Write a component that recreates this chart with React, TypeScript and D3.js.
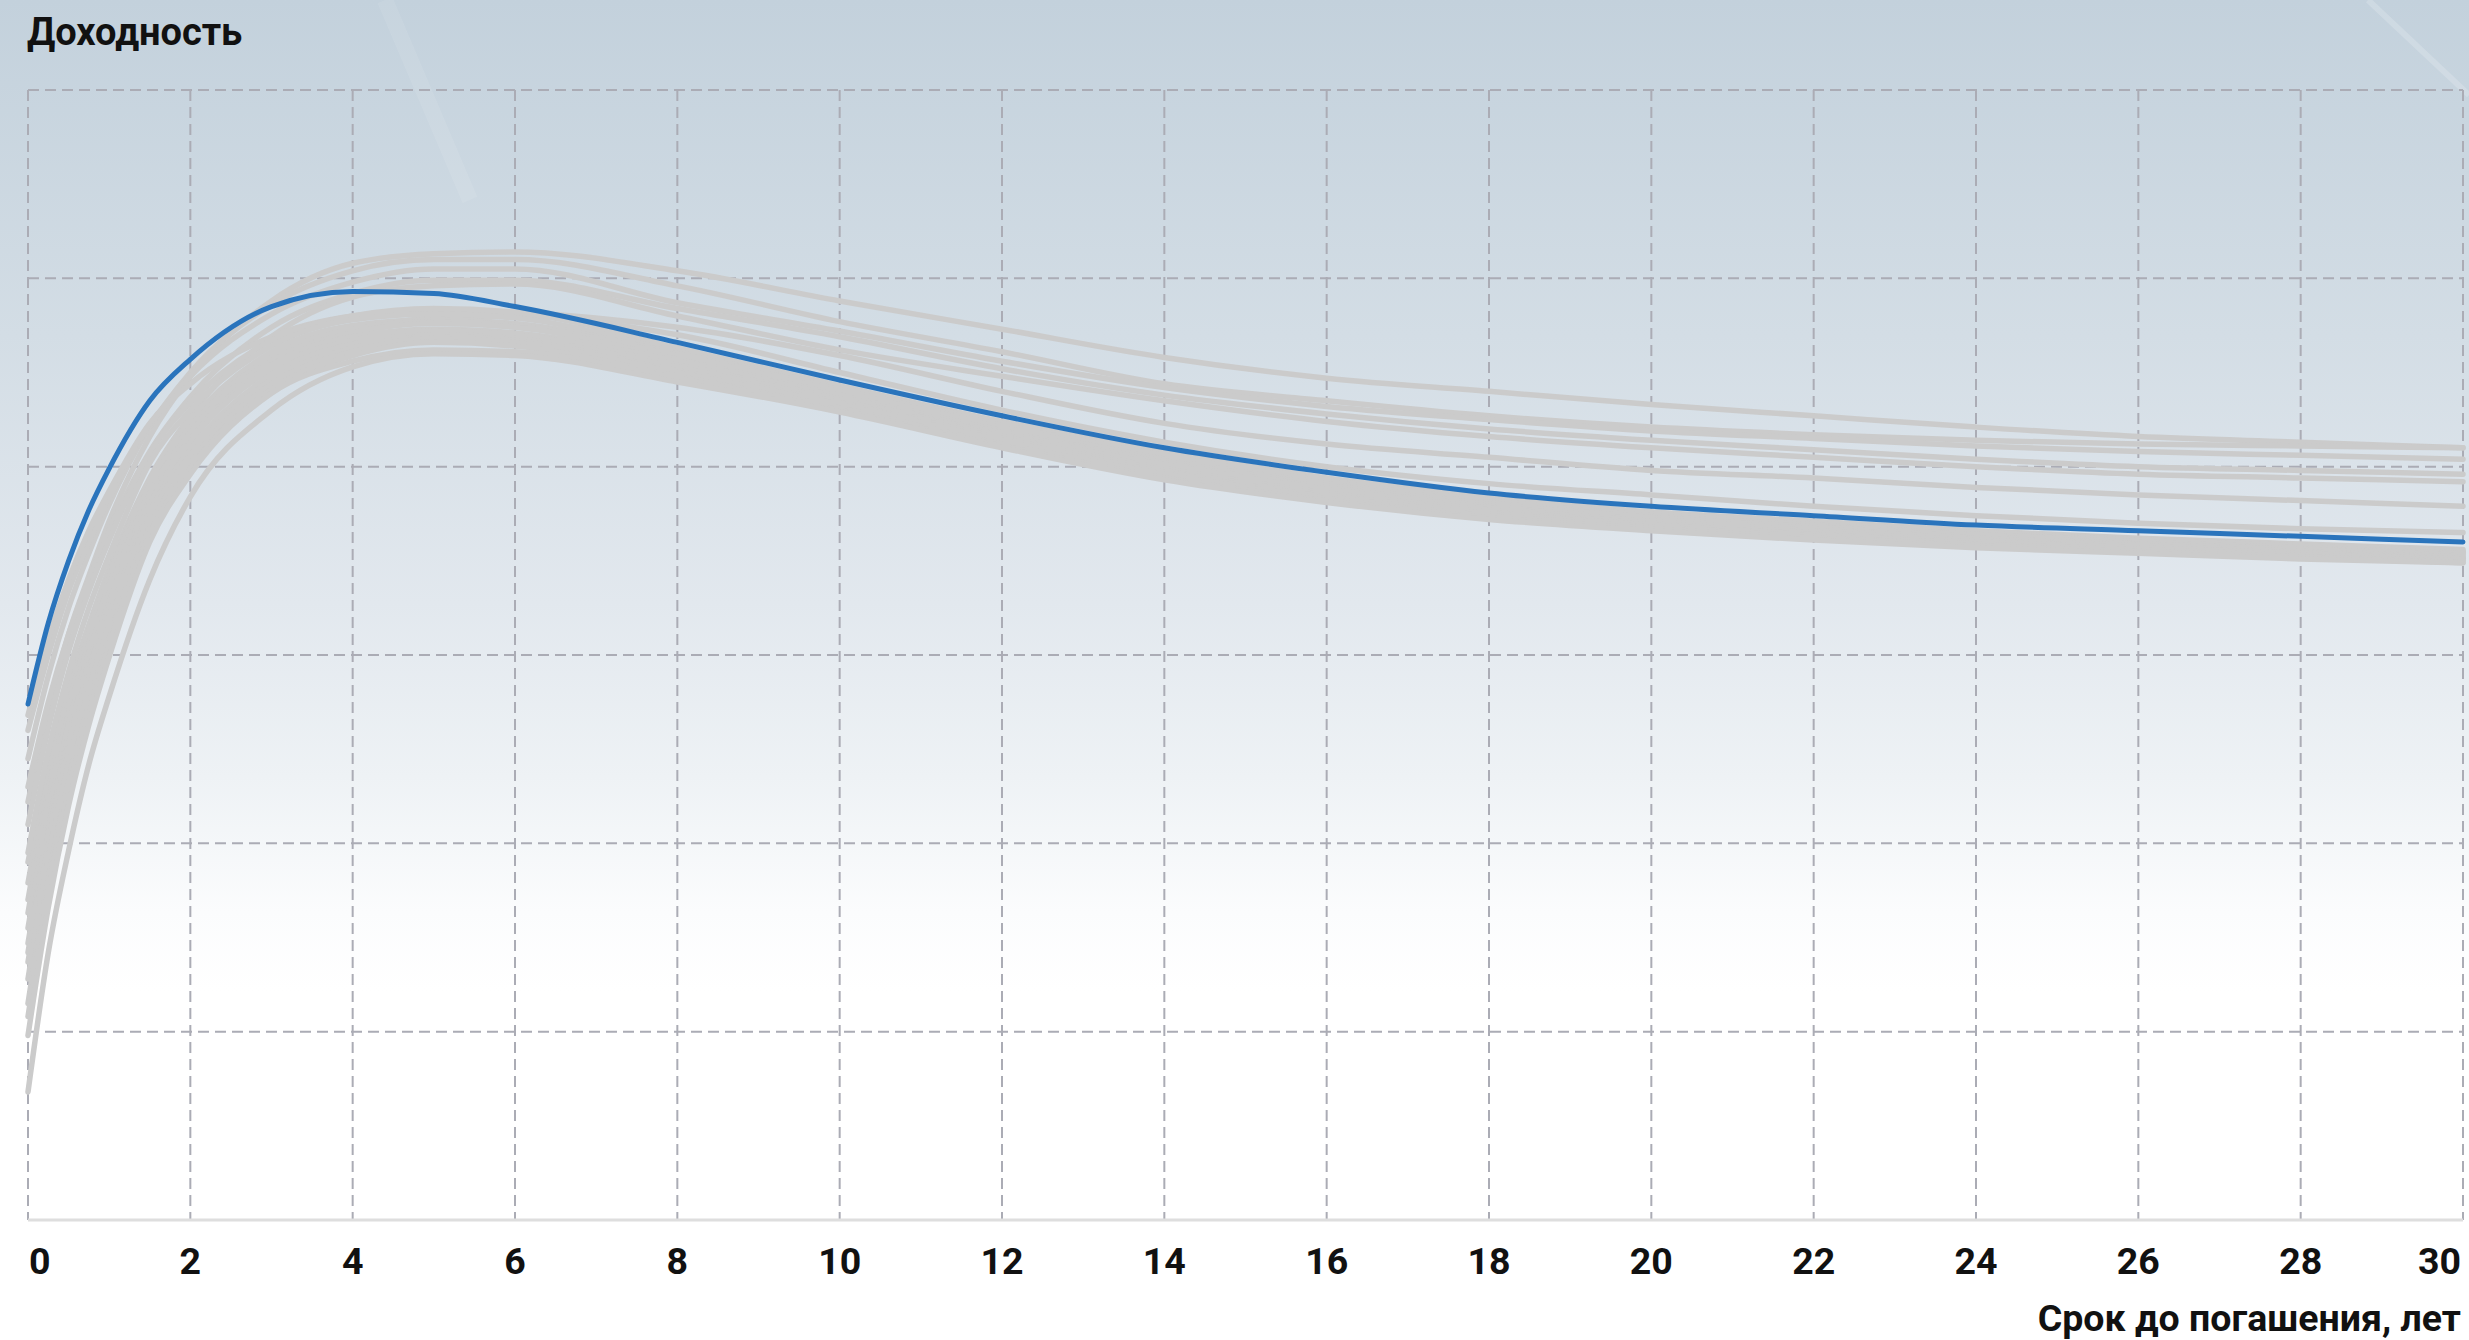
import React from "react";
import * as d3 from "d3";

// ---- data ----
const maturities = [0, 0.25, 0.5, 0.75, 1, 1.5, 2, 3, 4, 5, 6, 8, 10, 12, 14, 16, 18, 20, 22, 24, 26, 28, 30];

const currentCurve = [2.74, 3.17, 3.5, 3.77, 3.99, 4.35, 4.57, 4.85, 4.93, 4.92, 4.85, 4.66, 4.46, 4.27, 4.1, 3.97, 3.86, 3.79, 3.74, 3.69, 3.66, 3.63, 3.6];

const hist01 = [2.22, 2.71, 3.11, 3.42, 3.71, 4.16, 4.48, 4.88, 5.08, 5.13, 5.14, 5.04, 4.88, 4.73, 4.58, 4.47, 4.4, 4.33, 4.27, 4.21, 4.16, 4.13, 4.1];
const hist02 = [2.45, 2.89, 3.25, 3.54, 3.8, 4.21, 4.5, 4.86, 5.04, 5.1, 5.1, 4.96, 4.77, 4.61, 4.44, 4.35, 4.27, 4.21, 4.17, 4.14, 4.12, 4.11, 4.1];
const hist03 = [2.6, 3.0, 3.34, 3.6, 3.84, 4.22, 4.48, 4.81, 4.98, 5.05, 5.05, 4.87, 4.72, 4.56, 4.42, 4.32, 4.25, 4.19, 4.15, 4.11, 4.08, 4.06, 4.04];
const hist04 = [2.3, 2.75, 3.11, 3.4, 3.66, 4.08, 4.37, 4.74, 4.92, 4.99, 4.99, 4.84, 4.69, 4.52, 4.38, 4.28, 4.2, 4.14, 4.09, 4.04, 4.0, 3.98, 3.96];
const hist05 = [1.9, 2.41, 2.83, 3.16, 3.46, 3.94, 4.27, 4.69, 4.9, 4.96, 4.97, 4.8, 4.62, 4.48, 4.35, 4.24, 4.16, 4.1, 4.05, 4.0, 3.96, 3.94, 3.92];
const hist06 = [2.68, 3.08, 3.4, 3.66, 3.87, 4.23, 4.44, 4.69, 4.8, 4.83, 4.82, 4.74, 4.59, 4.4, 4.23, 4.12, 4.05, 3.98, 3.94, 3.89, 3.85, 3.82, 3.79];
const hist07 = [1.79, 2.35, 2.79, 3.14, 3.43, 3.93, 4.22, 4.57, 4.72, 4.79, 4.8, 4.7, 4.5, 4.3, 4.13, 4.0, 3.91, 3.85, 3.79, 3.74, 3.7, 3.67, 3.65];
const hist08 = [2.1, 2.61, 3.02, 3.34, 3.61, 4.07, 4.34, 4.67, 4.8, 4.84, 4.82, 4.63, 4.43, 4.24, 4.08, 3.94, 3.84, 3.76, 3.71, 3.66, 3.62, 3.59, 3.56];
const hist09 = [1.95, 2.49, 2.91, 3.25, 3.53, 4.02, 4.3, 4.64, 4.78, 4.81, 4.79, 4.61, 4.42, 4.23, 4.07, 3.93, 3.83, 3.75, 3.7, 3.65, 3.61, 3.58, 3.55];
const hist10 = [1.7, 2.28, 2.74, 3.11, 3.41, 3.93, 4.24, 4.61, 4.75, 4.78, 4.76, 4.6, 4.41, 4.22, 4.06, 3.92, 3.82, 3.74, 3.69, 3.64, 3.61, 3.58, 3.55];
const hist11 = [1.63, 2.22, 2.69, 3.06, 3.37, 3.9, 4.21, 4.58, 4.73, 4.77, 4.75, 4.59, 4.4, 4.21, 4.04, 3.91, 3.81, 3.73, 3.68, 3.64, 3.6, 3.57, 3.54];
const hist12 = [1.55, 2.15, 2.63, 3.01, 3.33, 3.86, 4.18, 4.56, 4.71, 4.76, 4.74, 4.57, 4.38, 4.19, 4.03, 3.9, 3.8, 3.73, 3.68, 3.63, 3.59, 3.56, 3.54];
const hist13 = [1.47, 2.08, 2.57, 2.96, 3.28, 3.83, 4.15, 4.54, 4.69, 4.73, 4.71, 4.56, 4.37, 4.18, 4.02, 3.89, 3.79, 3.72, 3.67, 3.62, 3.59, 3.56, 3.53];
const hist14 = [1.42, 2.04, 2.53, 2.92, 3.25, 3.8, 4.13, 4.52, 4.67, 4.72, 4.7, 4.54, 4.36, 4.17, 4.01, 3.88, 3.78, 3.71, 3.66, 3.62, 3.58, 3.55, 3.52];
const hist15 = [1.37, 1.99, 2.49, 2.88, 3.21, 3.76, 4.09, 4.49, 4.65, 4.7, 4.68, 4.53, 4.35, 4.16, 3.99, 3.86, 3.77, 3.7, 3.65, 3.61, 3.57, 3.54, 3.52];
const hist16 = [1.28, 1.92, 2.42, 2.82, 3.16, 3.73, 4.06, 4.46, 4.63, 4.69, 4.67, 4.51, 4.34, 4.15, 3.98, 3.85, 3.76, 3.69, 3.64, 3.6, 3.57, 3.54, 3.51];
const hist17 = [1.15, 1.81, 2.33, 2.74, 3.09, 3.68, 4.02, 4.44, 4.61, 4.68, 4.66, 4.5, 4.33, 4.14, 3.97, 3.84, 3.75, 3.69, 3.64, 3.59, 3.56, 3.53, 3.51];
const hist18 = [1.08, 1.75, 2.27, 2.69, 3.05, 3.64, 3.99, 4.41, 4.59, 4.66, 4.64, 4.48, 4.31, 4.12, 3.96, 3.83, 3.74, 3.68, 3.63, 3.58, 3.55, 3.52, 3.5];
const hist19 = [0.98, 1.66, 2.2, 2.63, 2.99, 3.6, 3.96, 4.39, 4.56, 4.62, 4.61, 4.47, 4.3, 4.11, 3.94, 3.82, 3.73, 3.67, 3.62, 3.58, 3.55, 3.52, 3.49];
const hist20 = [0.68, 1.42, 1.96, 2.42, 2.78, 3.4, 3.84, 4.3, 4.53, 4.6, 4.59, 4.45, 4.29, 4.1, 3.93, 3.81, 3.72, 3.66, 3.61, 3.57, 3.54, 3.51, 3.49];

const historicalCurves = [hist01, hist02, hist03, hist04, hist05, hist06, hist07, hist08, hist09, hist10, hist11, hist12, hist13, hist14, hist15, hist16, hist17, hist18, hist19, hist20];

const xTicks = [0, 2, 4, 6, 8, 10, 12, 14, 16, 18, 20, 22, 24, 26, 28, 30];
const xTickLabels = ["0", "2", "4", "6", "8", "10", "12", "14", "16", "18", "20", "22", "24", "26", "28", "30"];
const yGridValues = [1, 2, 3, 4, 5, 6];

const yTitle = "Доходность";
const xTitle = "Срок до погашения, лет";

// ---- layout ----
const W = 2469;
const H = 1340;
const LEFT = 28;
const RIGHT = 2463;
const TOP = 90;
const BOTTOM = 1220;
const FONT = "Roboto, 'Noto Sans', sans-serif";

export default function App() {
  const x = d3.scaleLinear().domain([0, 30]).range([LEFT, RIGHT]);
  const y = d3.scaleLinear().domain([0, 6]).range([BOTTOM, TOP]);

  const line = d3
    .line<number>()
    .x((_, i) => x(maturities[i]))
    .y((v) => y(v))
    .curve(d3.curveMonotoneX);

  const gridColor = "#abacb5";

  return (
    <svg
      width={W}
      height={H}
      viewBox={`0 0 ${W} ${H}`}
      style={{ position: "fixed", left: 0, top: 0, display: "block" }}
    >
      <defs>
        <linearGradient id="bg" x1="0" y1="0" x2="0" y2="1">
          <stop offset="0" stopColor="#c3d1dc" />
          <stop offset="0.25" stopColor="#d3dde5" />
          <stop offset="0.45" stopColor="#e2e8ee" />
          <stop offset="0.58" stopColor="#eef2f5" />
          <stop offset="0.68" stopColor="#fbfcfd" />
          <stop offset="0.74" stopColor="#ffffff" />
          <stop offset="1" stopColor="#ffffff" />
        </linearGradient>
      </defs>
      <rect x={0} y={0} width={W} height={H} fill="url(#bg)" />
      {/* faint decorative streaks */}
      <line x1={385} y1={0} x2={470} y2={200} stroke="#ffffff" strokeOpacity={0.08} strokeWidth={16} />
      <line x1={2368} y1={0} x2={2469} y2={95} stroke="#ffffff" strokeOpacity={0.18} strokeWidth={6} />

      {/* grid */}
      <g>
        {yGridValues.map((v) => (
          <line
            key={"h" + v}
            x1={LEFT}
            x2={RIGHT}
            y1={y(v)}
            y2={y(v)}
            stroke={gridColor}
            strokeWidth={2}
            strokeDasharray="11,6"
          />
        ))}
        {xTicks.map((t) => (
          <line
            key={"v" + t}
            x1={x(t)}
            x2={x(t)}
            y1={y(6)}
            y2={y(0)}
            stroke={gridColor}
            strokeWidth={2}
            strokeDasharray="11,6"
          />
        ))}
        <line x1={LEFT} x2={RIGHT} y1={y(0)} y2={y(0)} stroke="#dedede" strokeWidth={3} />
      </g>

      {/* curves */}
      <g fill="none" strokeLinecap="round" strokeLinejoin="round">
        {historicalCurves.map((c, i) => (
          <path key={i} d={line(c) || ""} stroke="#cbcbcb" strokeWidth={5.5} />
        ))}
        <path d={line(currentCurve) || ""} stroke="#2a74bc" strokeWidth={5} />
      </g>

      {/* tick labels */}
      <g fontFamily={FONT} fontWeight={700} fontSize={37.5} fill="#111111">
        {xTicks.map((t, i) => (
          <text
            key={"t" + t}
            x={i === 0 ? x(t) + 1 : i === xTicks.length - 1 ? x(t) - 2 : x(t)}
            y={1274}
            textAnchor={i === 0 ? "start" : i === xTicks.length - 1 ? "end" : "middle"}
          >
            {xTickLabels[i]}
          </text>
        ))}
      </g>

      <text x={LEFT - 1} y={45} fontFamily={FONT} fontWeight={700} fontSize={38} fill="#111111">
        {yTitle}
      </text>
      <text x={RIGHT - 2} y={1331} textAnchor="end" fontFamily={FONT} fontWeight={700} fontSize={37.5} fill="#111111">
        {xTitle}
      </text>
    </svg>
  );
}
